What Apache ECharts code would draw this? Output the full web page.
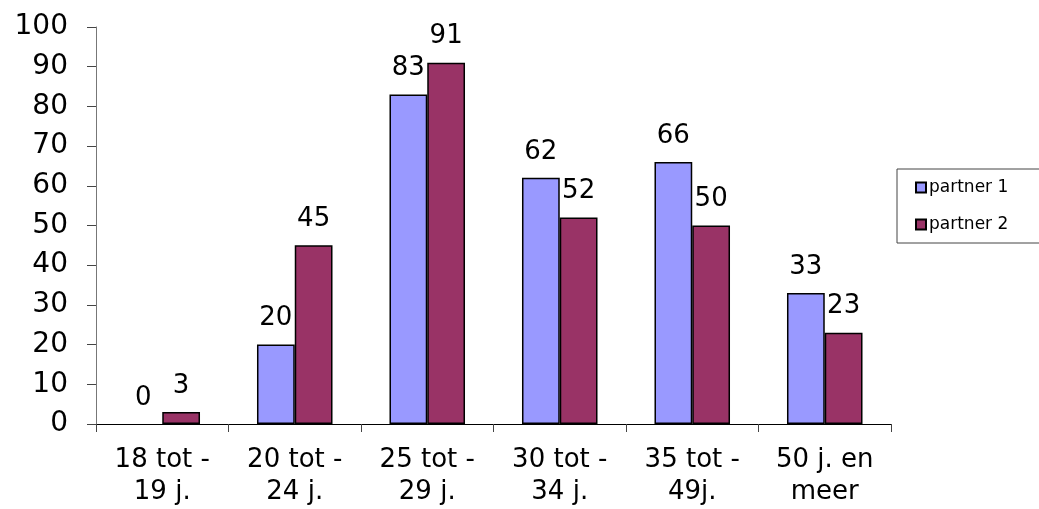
<!DOCTYPE html>
<html><head><meta charset="utf-8">
<script src="https://cdn.jsdelivr.net/npm/echarts@6/dist/echarts.min.js"></script>
<style>html,body{margin:0;padding:0;background:#fff}#c{width:1039px;height:509px}</style>
</head><body><div id="c"></div>
<script>
const categories = ['18 tot -\n19 j.', '20 tot -\n24 j.', '25 tot -\n29 j.', '30 tot -\n34 j.', '35 tot -\n49j.', '50 j. en\nmeer'];
const partner1 = [0, 20, 83, 62, 66, 33];
const partner2 = [3, 45, 91, 52, 50, 23];
const seriesNames = ['partner 1', 'partner 2'];
const FONT = 'DejaVu Sans';
const chart = echarts.init(document.getElementById('c'));
const lbl = {show: true, position: 'top', distance: 13, fontFamily: FONT, fontSize: 26, color: '#000'};
const toData = arr => arr.map(v => v === 0 ? {value: v, itemStyle: {borderWidth: 0}} : v);
chart.setOption({
  animation: false,
  grid: {left: 96, right: 148, top: 27, bottom: 85, containLabel: false},
  legend: {
    orient: 'vertical', left: 897, top: 169,
    padding: [10, 60, 10, 18], itemGap: 20, itemWidth: 10, itemHeight: 10,
    borderColor: '#444', borderWidth: 1,
    textStyle: {fontFamily: FONT, fontSize: 17, color: '#000', padding: [0, 0, 0, -2]},
    data: seriesNames.map(n => ({name: n, icon: 'rect'}))
  },
  xAxis: {
    type: 'category', data: categories,
    axisLine: {lineStyle: {color: '#000', width: 1}},
    axisTick: {show: true, length: 8, lineStyle: {color: '#444'}},
    axisLabel: {fontFamily: FONT, fontSize: 26, color: '#000', margin: 20, lineHeight: 32}
  },
  yAxis: {
    type: 'value', min: 0, max: 100, interval: 10,
    axisLine: {show: true, lineStyle: {color: '#777', width: 1}},
    axisTick: {show: true, inside: false, length: 9, lineStyle: {color: '#444'}},
    splitLine: {show: false},
    axisLabel: {fontFamily: FONT, fontSize: 28, color: '#000', margin: 28}
  },
  series: [
    {name: seriesNames[0], type: 'bar', data: toData(partner1), barGap: '0%', barCategoryGap: '43%',
     itemStyle: {color: '#9999FF', borderColor: '#000', borderWidth: 1.5}, label: lbl},
    {name: seriesNames[1], type: 'bar', data: toData(partner2), barGap: '0%', barCategoryGap: '43%',
     itemStyle: {color: '#993366', borderColor: '#000', borderWidth: 1.5}, label: lbl}
  ]
});
</script></body></html>
